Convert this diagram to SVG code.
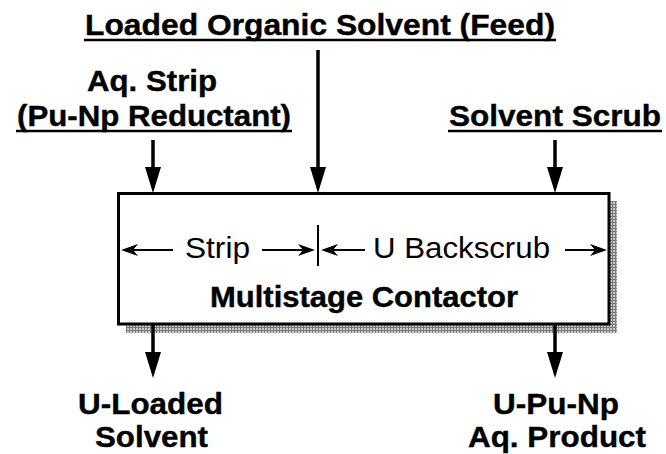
<svg xmlns="http://www.w3.org/2000/svg" width="666" height="454" viewBox="0 0 666 454">
<style>
.b{font-family:"Liberation Sans",Arial,sans-serif;font-weight:bold;font-size:30px;fill:#000;stroke:#000;stroke-width:0.4}
.r{font-family:"Liberation Sans",Arial,sans-serif;font-size:29px;fill:#000}
.ul{stroke:#000;stroke-width:2.5}
.flow{stroke:#000;stroke-width:3.5;fill:none}
.dim{stroke:#000;stroke-width:2;fill:none}
</style>
<defs>
<pattern id="grid" width="3" height="3" patternUnits="userSpaceOnUse">
<rect width="3" height="3" fill="#cacaca"/>
<path d="M0,0.5H3M0.5,0V3" stroke="#7a7a7a" stroke-width="1"/>
</pattern>
<marker id="big" markerUnits="userSpaceOnUse" markerWidth="27" markerHeight="17" refX="0" refY="8" orient="auto" viewBox="0 0 27 16">
<path d="M0,0L26,8L0,16z" fill="#000"/>
</marker>
<marker id="barb" markerUnits="userSpaceOnUse" markerWidth="18" markerHeight="12" refX="5" refY="6" orient="auto" viewBox="0 0 18 12">
<path d="M0,0L17,6L0,12L5,6z" fill="#000"/>
</marker>
</defs>
<g id="contactor">
<rect x="126" y="201" width="491" height="132" fill="url(#grid)"/>
<rect x="118.5" y="193.5" width="490.5" height="130.5" fill="#fff" stroke="#000" stroke-width="3"/>
<text class="r" x="185" y="258" textLength="65" lengthAdjust="spacingAndGlyphs">Strip</text>
<text class="r" x="373" y="258" textLength="177" lengthAdjust="spacingAndGlyphs">U Backscrub</text>
<text class="b" x="210" y="307" textLength="308" lengthAdjust="spacingAndGlyphs">Multistage Contactor</text>
<line x1="318" y1="225" x2="318" y2="266" stroke="#000" stroke-width="2"/>
</g>
<g id="feed">
<text class="b" x="85" y="35" textLength="470" lengthAdjust="spacingAndGlyphs">Loaded Organic Solvent (Feed)</text>
<line class="ul" x1="84" y1="40" x2="556" y2="40"/>
</g>
<g id="strip-in">
<text class="b" x="87" y="91" textLength="130" lengthAdjust="spacingAndGlyphs">Aq. Strip</text>
<text class="b" x="17" y="126" textLength="274" lengthAdjust="spacingAndGlyphs">(Pu-Np Reductant)</text>
<line class="ul" x1="16" y1="131" x2="292" y2="131"/>
</g>
<g id="scrub-in">
<text class="b" x="449" y="126" textLength="212" lengthAdjust="spacingAndGlyphs">Solvent Scrub</text>
<line class="ul" x1="448" y1="131" x2="662" y2="131"/>
</g>
<g id="solvent-out">
<text class="b" x="78" y="414" textLength="145" lengthAdjust="spacingAndGlyphs">U-Loaded</text>
<text class="b" x="95" y="447" textLength="113" lengthAdjust="spacingAndGlyphs">Solvent</text>
</g>
<g id="product-out">
<text class="b" x="493" y="414" textLength="126" lengthAdjust="spacingAndGlyphs">U-Pu-Np</text>
<text class="b" x="468" y="447" textLength="178" lengthAdjust="spacingAndGlyphs">Aq. Product</text>
</g>
<g id="connectors">
<line class="flow" x1="318" y1="50" x2="318" y2="167" marker-end="url(#big)"/>
<line class="flow" x1="153" y1="140" x2="153" y2="167" marker-end="url(#big)"/>
<line class="flow" x1="555" y1="140" x2="555" y2="167" marker-end="url(#big)"/>
<line class="flow" x1="153" y1="325" x2="153" y2="352" marker-end="url(#big)"/>
<line class="flow" x1="555" y1="325" x2="555" y2="352" marker-end="url(#big)"/>
<line class="dim" x1="173" y1="250" x2="133" y2="250" marker-end="url(#barb)"/>
<line class="dim" x1="262" y1="250" x2="303" y2="250" marker-end="url(#barb)"/>
<line class="dim" x1="365" y1="250" x2="333" y2="250" marker-end="url(#barb)"/>
<line class="dim" x1="565" y1="250" x2="595" y2="250" marker-end="url(#barb)"/>
</g>
</svg>
